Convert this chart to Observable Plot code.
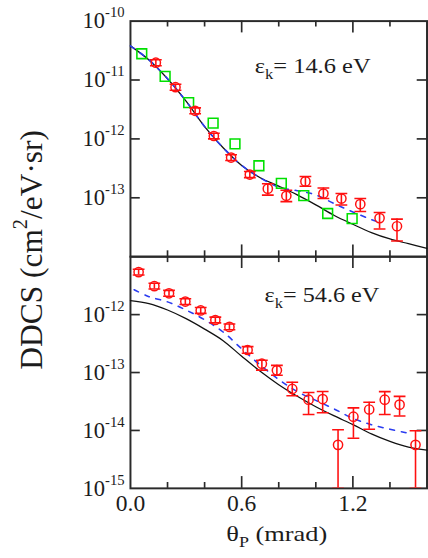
<!DOCTYPE html>
<html><head><meta charset="utf-8">
<script src="https://cdn.jsdelivr.net/npm/d3@7"></script>
<script src="https://cdn.jsdelivr.net/npm/@observablehq/plot@0.6"></script>
<style>
html,body{margin:0;padding:0;overflow:hidden;background:#fff;width:428px;height:558px;}
#chart{position:relative;width:428px;height:558px;overflow:hidden;}
#chart svg{position:absolute;left:0;top:0;}
#chart svg, #chart svg text{font-family:"Liberation Serif","Times New Roman",Tinos,serif !important;}
</style></head><body><div id="chart"></div>
<script>
// ---------- data ----------
// top panel: eps_k = 14.6 eV
const topGreenX = [0.061, 0.187, 0.314, 0.446, 0.564, 0.693, 0.814, 0.935, 1.064, 1.196];
const topGreenY = [2.79e-11, 1.15e-11, 4.14e-12, 1.85e-12, 8.26e-13, 3.5e-13, 1.76e-13, 1.09e-13, 5.41e-14, 4.43e-14];

const topRedX  = [0.137, 0.243, 0.349, 0.45, 0.543, 0.644, 0.741, 0.841, 0.944, 1.041, 1.138, 1.24, 1.344, 1.438];
const topRedY  = [1.97e-11, 7.55e-12, 3.0e-12, 1.12e-12, 4.82e-13, 2.48e-13, 1.43e-13, 1.08e-13, 1.9e-13, 1.18e-13, 9.7e-14, 7.8e-14, 4.52e-14, 3.29e-14];
const topRedLo = [1.75e-11, 6.7e-12, 2.67e-12, 1.0e-12, 4.3e-13, 2.2e-13, 1.11e-13, 8.6e-14, 1.57e-13, 9.7e-14, 7.55e-14, 5.85e-14, 2.96e-14, 1.85e-14];
const topRedHi = [2.2e-11, 8.5e-12, 3.36e-12, 1.25e-12, 5.4e-13, 2.8e-13, 1.73e-13, 1.34e-13, 2.3e-13, 1.47e-13, 1.18e-13, 9.7e-14, 5.62e-14, 4.35e-14];

const topSolidX = [0, 0.1, 0.2, 0.3, 0.4, 0.5, 0.6, 0.7, 0.8, 0.9, 1.0, 1.1, 1.2, 1.3, 1.4, 1.5, 1.6];
const topSolidY = [3.8e-11, 2.19e-11, 1.05e-11, 4.37e-12, 1.62e-12, 7.08e-13, 3.55e-13, 2.19e-13, 1.58e-13, 1.12e-13, 7.59e-14, 5.01e-14, 3.55e-14, 2.57e-14, 2.0e-14, 1.66e-14, 1.38e-14];
const topDashX  = [0, 0.1, 0.2, 0.3, 0.4, 0.5, 0.6, 0.7, 0.8, 0.9, 1.0, 1.1, 1.2, 1.3, 1.33];
const topDashY  = [3.8e-11, 2.19e-11, 1.05e-11, 4.37e-12, 1.62e-12, 7.08e-13, 3.55e-13, 2.19e-13, 1.51e-13, 1.32e-13, 1.12e-13, 7.94e-14, 5.75e-14, 4.27e-14, 3.95e-14];

// bottom panel: eps_k = 54.6 eV
const botRedX  = [0.044, 0.129, 0.208, 0.296, 0.379, 0.458, 0.534, 0.632, 0.709, 0.79, 0.873, 0.961, 1.037, 1.12, 1.203, 1.288, 1.372, 1.452, 1.538];
const botRedY  = [5.42e-12, 3.1e-12, 2.33e-12, 1.68e-12, 1.18e-12, 8.07e-13, 6.14e-13, 2.45e-13, 1.42e-13, 1.09e-13, 5.21e-14, 3.4e-14, 3.48e-14, 5.64e-15, 1.73e-14, 2.3e-14, 3.4e-14, 2.79e-14, 5.64e-15];
const botRedLo = [4.83e-12, 2.77e-12, 2.08e-12, 1.5e-12, 1.05e-12, 7.2e-13, 5.47e-13, 2.15e-13, 1.1e-13, 8.99e-14, 3.96e-14, 1.89e-14, 2.02e-14, 1e-15, 7.31e-15, 1.05e-14, 1.89e-14, 1.77e-14, 1e-15];
const botRedHi = [6.08e-12, 3.48e-12, 2.62e-12, 1.88e-12, 1.33e-12, 9.05e-13, 6.89e-13, 2.8e-13, 1.63e-13, 1.33e-13, 6.78e-14, 4.53e-14, 4.71e-14, 1.03e-14, 2.45e-14, 3.06e-14, 4.68e-14, 3.87e-14, 9.9e-15];

const botSolidX = [0, 0.1, 0.2, 0.3, 0.4, 0.5, 0.6, 0.7, 0.8, 0.9, 1.0, 1.1, 1.2, 1.3, 1.4, 1.5, 1.6];
const botSolidY = [1.74e-12, 1.55e-12, 1.2e-12, 8.51e-13, 5.62e-13, 3.55e-13, 1.91e-13, 1.05e-13, 6.17e-14, 3.89e-14, 2.57e-14, 1.78e-14, 1.26e-14, 8.71e-15, 6.46e-15, 5.13e-15, 4.57e-15];
const botDashX  = [0.02, 0.1, 0.2, 0.3, 0.4, 0.5, 0.6, 0.7, 0.8, 0.9, 1.0, 1.1, 1.2, 1.3, 1.4, 1.49];
const botDashY  = [2.69e-12, 2.04e-12, 1.66e-12, 1.2e-12, 8.13e-13, 5.01e-13, 2.57e-13, 1.35e-13, 7.59e-14, 4.68e-14, 3.31e-14, 2.34e-14, 1.62e-14, 1.26e-14, 1.05e-14, 9.1e-15];

// axes
const xDomain = [0, 1.6];
const xLabelTicks = [0, 0.6, 1.2];
const xMinorTicks = [0.2, 0.4, 0.8, 1.0, 1.4];
const xMajorTicks = [0.6, 1.2];
const topYDomain = [1e-14, 1e-10];
const topYLabels = [1e-13, 1e-12, 1e-11, 1e-10];
const topYTicks = [1e-13, 1e-12, 1e-11];
const botYDomain = [1e-15, 1e-11];
const botYLabels = [1e-15, 1e-14, 1e-13, 1e-12];
const botYTicks = [1e-14, 1e-13, 1e-12];

const topLabel = "ε_{k}= 14.6 eV";
const botLabel = "ε_{k}= 54.6 eV";
const xTitle = "θ_{P} (mrad)";
const yTitle = "DDCS (cm^{2}/eV·sr)";

// ---------- styling ----------
const FONT = '"Liberation Serif","Times New Roman",serif';
const TXT = "#1c1c1c", AX = "#2a2a2a";
const RED = "#ff1010", GREEN = "#00e000", BLUE = "#2a3cf0", BLACK = "#111";
const W = 436, mL = 132.4, mR = 1.5;
const PW = W - mL - mR;

const hline = {draw(ctx, size) { const r = Math.sqrt(size / Math.PI); ctx.moveTo(-r, 0); ctx.lineTo(r, 0); }};
const rows = (xs, ys) => xs.map((x, i) => ({x, y: ys[i]}));
const errRows = (xs, ys, lo, hi) => xs.map((x, i) => ({x, y: ys[i], lo: lo[i], hi: hi[i]}));

function frameTicks(ph, yTicks) {
  return [
    Plot.frame({stroke: AX, strokeWidth: 2}),
    Plot.tickX(xMinorTicks, {x: d => d, insetTop: ph - 6, stroke: AX, strokeWidth: 1.7}),
    Plot.tickX(xMajorTicks, {x: d => d, insetTop: ph - 12, stroke: AX, strokeWidth: 1.7}),
    Plot.tickX(xMinorTicks, {x: d => d, insetBottom: ph - 6, stroke: AX, strokeWidth: 1.7}),
    Plot.tickX(xMajorTicks, {x: d => d, insetBottom: ph - 12, stroke: AX, strokeWidth: 1.7}),
    Plot.tickY(yTicks, {y: d => d, insetRight: PW - 10, stroke: AX, strokeWidth: 1.7}),
    Plot.tickY(yTicks, {y: d => d, insetLeft: PW - 10, stroke: AX, strokeWidth: 1.7})
  ];
}
function redMarks(data) {
  return [
    Plot.ruleX(data, {x: "x", y1: "lo", y2: "hi", stroke: RED, strokeWidth: 1.6, clip: true}),
    Plot.dot(data, {x: "x", y: "lo", symbol: hline, r: 6, stroke: RED, strokeWidth: 1.6, fill: "none", clip: true}),
    Plot.dot(data, {x: "x", y: "hi", symbol: hline, r: 6, stroke: RED, strokeWidth: 1.6, fill: "none", clip: true}),
    Plot.dot(data, {x: "x", y: "y", r: 4.7, stroke: RED, strokeWidth: 1.5, fill: "none"})
  ];
}
const yFmt = d => `10^{${Math.round(Math.log10(d))}}`;

const topPH = 240;
const topPlot = Plot.plot({
  width: W, height: 280, marginLeft: mL, marginRight: mR, marginTop: 21, marginBottom: 19,
  style: {background: "transparent", fontFamily: FONT, fontSize: "23px", color: TXT, overflow: "visible"},
  x: {domain: xDomain, axis: null},
  y: {type: "log", domain: topYDomain, ticks: topYLabels, tickSize: 0, tickPadding: 6, tickFormat: yFmt, label: null},
  marks: [
    ...frameTicks(topPH, topYTicks),
    Plot.line(rows(topSolidX, topSolidY), {x: "x", y: "y", stroke: BLACK, strokeWidth: 1.3, curve: "catmull-rom"}),
    Plot.line(rows(topDashX, topDashY), {x: "x", y: "y", stroke: BLUE, strokeWidth: 1.6, strokeDasharray: "5,7", curve: "catmull-rom"}),
    Plot.dot(rows(topGreenX, topGreenY), {x: "x", y: "y", symbol: "square", r: 5.6, stroke: GREEN, strokeWidth: 1.6, fill: "none"}),
    ...redMarks(errRows(topRedX, topRedY, topRedLo, topRedHi)),
    Plot.text([topLabel], {text: d => d, frameAnchor: "top", dx: 34.5, dy: 46, fontSize: 22, textAnchor: "middle", lineAnchor: "middle", fill: TXT})
  ]
});

const botPH = 236;
const botPlot = Plot.plot({
  width: W, height: 558, marginLeft: mL, marginRight: mR, marginTop: 261, marginBottom: 61,
  style: {background: "transparent", fontFamily: FONT, fontSize: "23px", color: TXT, overflow: "visible"},
  x: {domain: xDomain, ticks: xLabelTicks, tickSize: 0, tickPadding: 7, tickFormat: d3.format(".1f"), label: null},
  y: {type: "log", domain: botYDomain, ticks: botYLabels, tickSize: 0, tickPadding: 6, tickFormat: yFmt, label: null},
  marks: [
    ...frameTicks(botPH, botYTicks),
    Plot.line(rows(botSolidX, botSolidY), {x: "x", y: "y", stroke: BLACK, strokeWidth: 1.3, curve: "catmull-rom"}),
    Plot.line(rows(botDashX, botDashY), {x: "x", y: "y", stroke: BLUE, strokeWidth: 1.6, strokeDasharray: "5,7", curve: "catmull-rom"}),
    ...redMarks(errRows(botRedX, botRedY, botRedLo, botRedHi)),
    Plot.text([botLabel], {text: d => d, frameAnchor: "top", dx: 44, dy: 39, fontSize: 22, textAnchor: "middle", lineAnchor: "middle", fill: TXT}),
    Plot.text([xTitle], {text: d => d, frameAnchor: "bottom", dx: -2, dy: 47, fontSize: 22, textAnchor: "middle", lineAnchor: "middle", fill: TXT}),
    Plot.text([yTitle], {text: d => d, frameAnchor: "left", dx: -100, dy: -125, rotate: -90, fontSize: 32, textAnchor: "middle", lineAnchor: "middle", fill: TXT})
  ]
});

const chart = document.getElementById("chart");
chart.append(topPlot, botPlot);

// rich text (sub/superscripts) and width matching
const targetWidths = {"0.0": 30, "0.6": 30, "1.2": 30};
targetWidths[topLabel] = 118; targetWidths[botLabel] = 117; targetWidths[xTitle] = 103;
const NS = "http://www.w3.org/2000/svg";
function richify(el) {
  const s = el.textContent;
  if (!/[_^]\{/.test(s)) return;
  const fs = parseFloat(getComputedStyle(el).fontSize);
  el.textContent = "";
  const re = /([_^])\{([^}]*)\}/g;
  let last = 0, m, off = 0;
  const add = (txt, shift, small) => {
    const t = document.createElementNS(NS, "tspan");
    t.textContent = txt;
    const d = shift - off;
    if (d) t.setAttribute("dy", d);
    off = shift;
    if (small) t.setAttribute("font-size", small);
    el.appendChild(t);
  };
  while ((m = re.exec(s))) {
    if (m.index > last) add(s.slice(last, m.index), 0, null);
    if (m[1] === "^") add(m[2], -0.48 * fs, 0.65 * fs);
    else add(m[2], 0.28 * fs, 0.68 * fs);
    last = re.lastIndex;
  }
  if (last < s.length) add(s.slice(last), 0, null);
}
for (const svg of chart.querySelectorAll("svg")) {
  for (const el of svg.querySelectorAll("text")) {
    const raw = el.textContent;
    richify(el);
    if (targetWidths[raw]) {
      el.setAttribute("textLength", targetWidths[raw]);
      el.setAttribute("lengthAdjust", "spacingAndGlyphs");
    }
  }
}
</script></body></html>
